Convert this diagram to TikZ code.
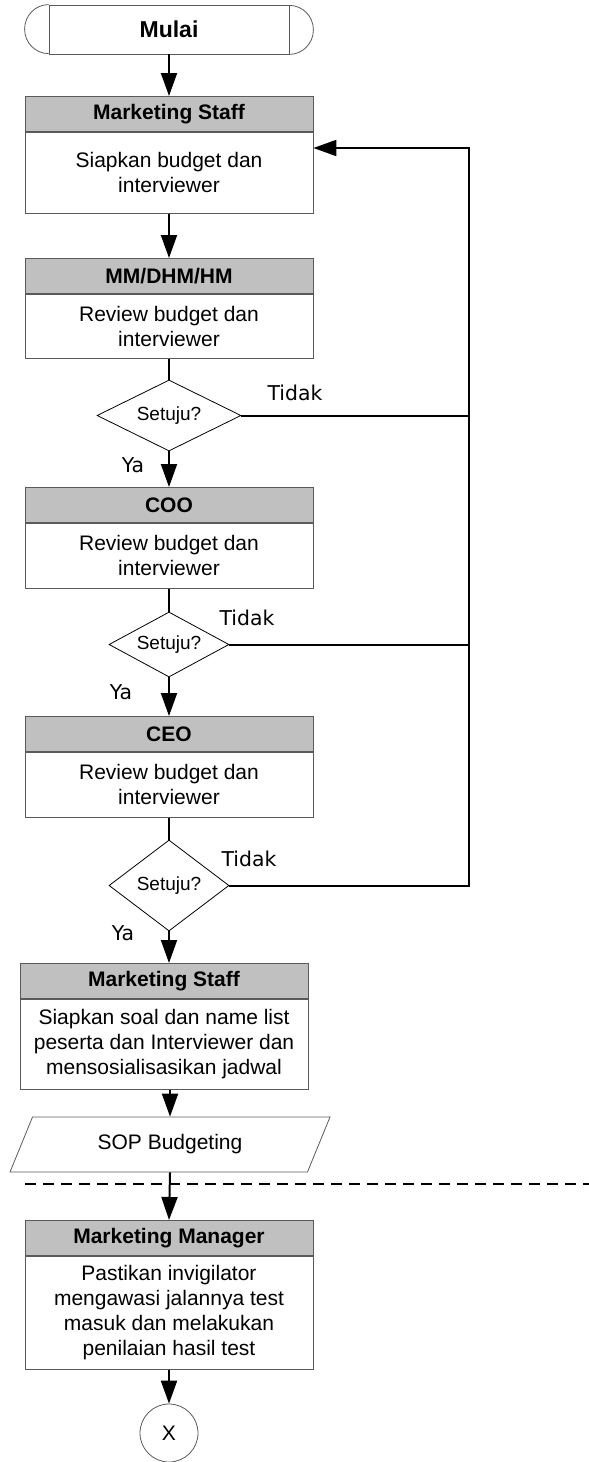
\documentclass[tikz,border=0pt]{standalone}
\usepackage{fontspec}
\setmainfont{Liberation Sans}
\newfontfamily\verdana{DejaVu Sans}
\usetikzlibrary{positioning,shapes.geometric,arrows.meta}
\definecolor{abu}{RGB}{192,192,192}
\definecolor{tepi}{RGB}{90,90,90}

\begin{document}
\begin{tikzpicture}[x=0.5pt,y=-0.5pt,
        judul/.style={draw=tepi, fill=abu, minimum width=144pt, minimum height=17.5pt, inner sep=0pt, anchor=north, font=\fontsize{10.5}{12.5}\selectfont\bfseries},
        isi/.style={draw=tepi, minimum width=144pt, inner sep=0pt, align=center, font=\fontsize{10.5}{12.5}\selectfont},
        tanya/.style={draw, diamond, aspect=2, inner sep=0pt, font=\fontsize{9.5}{11}\selectfont},
        ket/.style={inner sep=0pt, font=\verdana\fontsize{10.2}{12}\selectfont},
        panah/.style={-{Triangle[length=11.5pt,width=8pt]}, line width=1pt},
        garis/.style={line width=1pt}]
        \useasboundingbox (0,0) rectangle (589,1462);

        % Mulai
        \node[draw=tepi, minimum width=120pt, minimum height=24.5pt, inner sep=0pt, font=\fontsize{11.5}{13}\selectfont\bfseries] (mulai) at (169,29.5) {Mulai};
        \draw[tepi] (mulai.north west) arc (90:270:12pt and 12.25pt);
        \draw[tepi] (mulai.south east) arc (-90:90:12pt and 12.25pt);

        % Kotak proses
        \node[judul] (h1) at (169,96) {Marketing Staff};
        \node[isi, minimum height=40.5pt, below=0pt of h1] (b1) {Siapkan budget dan\\interviewer};

        \node[judul] (h2) at (169,258) {MM/DHM/HM};
        \node[isi, minimum height=32pt, below=0pt of h2] (b2) {Review budget dan\\interviewer};

        \node[judul] (h3) at (169,487) {COO};
        \node[isi, minimum height=32.5pt, below=0pt of h3] (b3) {Review budget dan\\interviewer};

        \node[judul] (h4) at (169,716) {CEO};
        \node[isi, minimum height=32.5pt, below=0pt of h4] (b4) {Review budget dan\\interviewer};

        \node[judul] (h5) at (164,963) {Marketing Staff};
        \node[isi, minimum height=45pt, below=0pt of h5] (b5) {Siapkan soal dan name list\\peserta dan Interviewer dan\\mensosialisasikan jadwal};

        \node[judul] (h6) at (169,1220) {Marketing Manager};
        \node[isi, minimum height=56.5pt, below=0pt of h6] (b6) {Pastikan invigilator\\mengawasi jalannya test\\masuk dan melakukan\\penilaian hasil test};

        % Keputusan
        \node[tanya, minimum width=72pt, minimum height=35.5pt] (d1) at (169,415.5) {Setuju?};
        \node[tanya, minimum width=60pt, minimum height=32.5pt] (d2) at (169,644.5) {Setuju?};
        \node[tanya, minimum width=60pt, minimum height=45.5pt] (d3) at (169,885.5) {Setuju?};

        \node[ket] (t1) at (295,393) {Tidak};
        \node[ket] (t2) at (247,618) {Tidak};
        \node[ket] (t3) at (249,859) {Tidak};
        \node[ket] (y1) at (133,465) {Ya};
        \node[ket] (y2) at (121,692) {Ya};
        \node[ket] (y3) at (123,933) {Ya};

        % Dokumen dan konektor
        \node[draw=tepi, trapezium, trapezium left angle=41, trapezium right angle=139, trapezium stretches body, minimum width=160pt, minimum height=27.5pt, inner sep=0pt, font=\fontsize{10.5}{12.5}\selectfont] (sop) at (170,1144.5) {SOP Budgeting};
        \node[draw=tepi, circle, minimum size=29pt, inner sep=0pt, font=\fontsize{10.5}{12.5}\selectfont] (x) at (169,1433) {X};

        \coordinate (balik) at (469,148);

        % Panah
        \draw[panah] (mulai.south) -- (h1.north);
        \draw[panah] (b1.south) -- (h2.north);
        \draw[garis] (b2.south) -- (d1.north);
        \draw[panah] (d1.south) -- (h3.north);
        \draw[garis] (b3.south) -- (d2.north);
        \draw[panah] (d2.south) -- (h4.north);
        \draw[garis] (b4.south) -- (d3.north);
        \draw[panah] (d3.south) -- (d3.south |- h5.north);
        \draw[panah] (sop.north |- b5.south) -- (sop.north);
        \draw[panah] (sop.south) -- (h6.north);
        \draw[panah] (b6.south) -- (x.north);

        \draw[garis] (d1.east) -- (d1.east -| balik);
        \draw[garis] (d2.east) -- (d2.east -| balik);
        \draw[panah] (d3.east) -- (d3.east -| balik) -- (balik) -- (balik -| b1.east);

        % Garis putus-putus
        \draw[line width=1pt, dash pattern=on 5.5pt off 3.5pt] (25,1184) -- (589,1184);
\end{tikzpicture}
\end{document}
